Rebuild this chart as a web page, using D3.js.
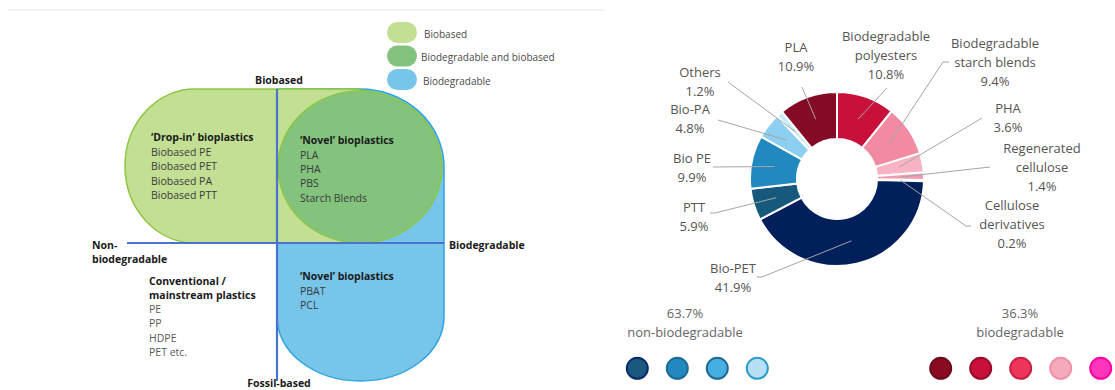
<!DOCTYPE html>
<html>
<head>
<meta charset="utf-8">
<script src="https://cdn.jsdelivr.net/npm/d3@7"></script>
<style>
  html, body { margin: 0; padding: 0; background: #fff; }
  svg { display: block; font-family: "Open Sans", "Noto Sans", sans-serif; }
</style>
</head>
<body>
<svg id="chart" width="1115" height="390"></svg>
<script>
// ---- Donut data: bioplastic production by material type (%) ----
const materials = [
  "Biodegradable polyesters", "Biodegradable starch blends", "PHA",
  "Regenerated cellulose", "Cellulose derivatives", "Bio-PET", "PTT",
  "Bio PE", "Bio-PA", "Others", "PLA"
];
const shares = [10.8, 9.4, 3.6, 1.4, 0.2, 41.9, 5.9, 9.9, 4.8, 1.2, 10.9];
const biodegradable = [true, true, true, true, true, false, false, false, false, false, true];
const labelLines = [
  ["Biodegradable", "polyesters"], ["Biodegradable", "starch blends"], ["PHA"],
  ["Regenerated", "cellulose"], ["Cellulose", "derivatives"], ["Bio-PET"], ["PTT"],
  ["Bio PE"], ["Bio-PA"], ["Others"], ["PLA"]
];
const sliceColors = [
  "#c8103a", "#f28aa2", "#f7b3c3", "#f39ab1", "#fde3ea", "#001f5b", "#17597c",
  "#2188c0", "#8ccff0", "#c9ecfa", "#850a25"
];

// ---- Quadrant diagram text ----
const legendItems = ["Biobased", "Biodegradable and biobased", "Biodegradable"];
const dropIn = ["Biobased PE", "Biobased PET", "Biobased PA", "Biobased PTT"];
const novelBio = ["PLA", "PHA", "PBS", "Starch Blends"];
const novelFossil = ["PBAT", "PCL"];
const conventional = ["PE", "PP", "HDPE", "PET etc."];

// ---- Legend dot colours under the donut ----
const nonBioDots = [["#1b5a7e", "#0b2a6e"], ["#2388c0", "#1b6a98"], ["#45aee2", "#1e6a95"], ["#b8e0f5", "#2b9bd2"]];
const bioDots = [["#8a0a24", "#6a0a1a"], ["#c8103a", "#9a0a2a"], ["#ec3558", "#c82040"], ["#f5aabb", "#f18fa6"], ["#ff36bc", "#ff00a0"]];

const svg = d3.select("#chart");

// faint rule across the top of the left panel
svg.append("line").attr("x1", 8).attr("x2", 604).attr("y1", 10).attr("y2", 10)
  .attr("stroke", "#eeeeee").attr("stroke-width", 1.5);

/* ================= Quadrant diagram ================= */
const cy0 = 243;                                   // horizontal axis position
const lightGreen = "#c3df94", darkGreen = "#83c37e", blue = "#78c5ea";

// biodegradable region (right half, fossil + bio based)
{
  const x0 = 277, x1 = 444, y0 = 89, y1 = 381, rbx = (x1 - x0) / 2, rby = 64;
  const d = `M ${x0} ${y0} H 360 A 84 78 0 0 1 ${x1} ${y0 + 78} V ${y1 - rby} ` +
            `A ${rbx} ${rby} 0 0 1 ${x0} ${y1 - rby} Z`;
  svg.append("path").attr("d", d)
    .attr("fill", blue).attr("stroke", "#2ea3e3").attr("stroke-width", 1.5);
}
// biobased region (top half)
{
  const x0 = 125, x1 = 420, y0 = 89, y1 = 243, rx = 70, ry = (y1 - y0) / 2;
  const d = `M ${x0 + rx} ${y0} H ${x1 - rx} A ${rx} ${ry} 0 0 1 ${x1} ${y0 + ry} A ${rx} ${ry} 0 0 1 ${x1 - rx} ${y1} ` +
            `H ${x0 + rx} A ${rx} ${ry} 0 0 1 ${x0} ${y0 + ry} A ${rx} ${ry} 0 0 1 ${x0 + rx} ${y0} Z`;
  svg.append("path").attr("d", d).attr("fill", lightGreen).attr("stroke", "#8dc63f").attr("stroke-width", 1.5);
}
// biodegradable and biobased overlap
svg.append("ellipse").attr("cx", 360).attr("cy", 167).attr("rx", 82).attr("ry", 76)
  .attr("fill", darkGreen).attr("stroke", "#8dc63f").attr("stroke-width", 1.5);

// axes
svg.append("line").attr("x1", 277).attr("x2", 277).attr("y1", 89).attr("y2", 381)
  .attr("stroke", "#4a72d0").attr("stroke-width", 2.2);
svg.append("line").attr("x1", 127).attr("x2", 444).attr("y1", cy0).attr("y2", cy0)
  .attr("stroke", "#4a72d0").attr("stroke-width", 2.2);

const qFont = 10.5;
function qText(x, y, str, opts = {}) {
  return svg.append("text").attr("x", x).attr("y", y).text(str)
    .attr("font-size", opts.size || qFont)
    .attr("font-weight", opts.bold ? 700 : 400)
    .attr("fill", opts.fill || (opts.bold ? "#1a1a1a" : "#3a3a3a"))
    .attr("text-anchor", opts.anchor || "start");
}
qText(279, 83.5, "Biobased", { bold: true, anchor: "middle" });
qText(279, 386.5, "Fossil-based", { bold: true, anchor: "middle" });
qText(92, 249, "Non-", { bold: true });
qText(92, 263, "biodegradable", { bold: true });
qText(449, 249, "Biodegradable", { bold: true });

const lh = 14.4;
qText(151, 141, "\u2018Drop-in\u2019 bioplastics", { bold: true });
dropIn.forEach((t, i) => qText(151, 156 + i * lh, t));
qText(300, 144, "\u2018Novel\u2019 bioplastics", { bold: true });
novelBio.forEach((t, i) => qText(300, 158.5 + i * lh, t));
qText(300, 280, "\u2018Novel\u2019 bioplastics", { bold: true });
novelFossil.forEach((t, i) => qText(300, 294.5 + i * lh, t));
qText(149, 284.5, "Conventional /", { bold: true });
qText(149, 299, "mainstream plastics", { bold: true });
conventional.forEach((t, i) => qText(149, 313 + i * lh, t, { fill: "#5a5a5a" }));

// legend pills
const pillFill = [lightGreen, darkGreen, blue];
const pillY = [22, 45.5, 69];
const pillTextX = [424, 421, 423];
legendItems.forEach((t, i) => {
  svg.append("rect").attr("x", 387).attr("y", pillY[i]).attr("width", 30).attr("height", 21)
    .attr("rx", 10.5).attr("fill", pillFill[i]);
  qText(pillTextX[i], pillY[i] + 15.5, t, { size: 10, fill: "#4a4a4a" });
});

/* ================= Donut ================= */
const cx = 837, cy = 179, rOuter = 87, rInner = 40;
const pie = d3.pie().sort(null).value(d => d);
const arcs = pie(shares);
const arc = d3.arc().innerRadius(rInner).outerRadius(rOuter);
const g = svg.append("g").attr("transform", `translate(${cx},${cy})`);

g.selectAll("path.slice").data(arcs).join("path")
  .attr("class", "slice")
  .attr("d", arc)
  .attr("fill", (d, i) => sliceColors[i])
  .attr("stroke", "#fff").attr("stroke-width", 2).attr("stroke-linejoin", "miter");

// label placement (offsets from the donut centre): text centre, first baseline, leader end
const labelLayout = [
  { tx: 49, ty: -138, lx: 50, ly: -91, tail: 0 },
  { tx: 158, ty: -131, lx: 106, ly: -117, tail: 6 },
  { tx: 171, ty: -66, lx: 145, ly: -61, tail: 0 },
  { tx: 205, ty: -26, lx: 153, ly: -12, tail: 0 },
  { tx: 175, ty: 31, lx: 129, ly: 47, tail: 5 },
  { tx: -104, ty: 94, lx: -75, ly: 98, tail: -5 },
  { tx: -143, ty: 33, lx: -122, ly: 34, tail: -5 },
  { tx: -145, ty: -16, lx: -124, ly: -12, tail: 0 },
  { tx: -147, ty: -65, lx: -119, ly: -59, tail: 0 },
  { tx: -137, ty: -102, lx: -109, ly: -97, tail: 0 },
  { tx: -41, ty: -127, lx: -35, ly: -92, tail: 0 }
];
const fmt = d3.format(".1f");
const labelArc = d3.arc().innerRadius(rInner).outerRadius(rOuter);

arcs.forEach((a, i) => {
  const L = labelLayout[i];
  const [sx, sy] = labelArc.centroid(a);
  const pts = [[sx, sy], [L.lx, L.ly]];
  if (L.tail) pts.push([L.lx + L.tail, L.ly]);
  g.append("path").attr("d", d3.line()(pts))
    .attr("fill", "none").attr("stroke", "#a6a6a6").attr("stroke-width", 1);
  const lines = labelLines[i].concat([fmt(shares[i]) + "%"]);
  const t = g.append("text").attr("text-anchor", "middle").attr("font-size", 13).attr("fill", "#555");
  lines.forEach((s, j) => t.append("tspan").attr("x", L.tx).attr("y", L.ty + j * 19).text(s));
});

// summary legend under the donut
const nonBioTotal = d3.sum(shares.filter((v, i) => !biodegradable[i]));
const bioTotal = d3.sum(shares.filter((v, i) => biodegradable[i]));
[[685, nonBioTotal, "non-biodegradable"], [1020, bioTotal, "biodegradable"]].forEach(([x, v, lab]) => {
  const t = svg.append("text").attr("text-anchor", "middle").attr("font-size", 13).attr("fill", "#666");
  t.append("tspan").attr("x", x).attr("y", 318).text(fmt(v) + "%");
  t.append("tspan").attr("x", x).attr("y", 337).text(lab);
});
const dotX = d3.scaleLinear().domain([0, 1]).range([0, 40]);
nonBioDots.forEach((c, i) => svg.append("circle").attr("cx", 637.3 + dotX(i)).attr("cy", 368.3).attr("r", 10.5)
  .attr("fill", c[0]).attr("stroke", c[1]).attr("stroke-width", 2));
bioDots.forEach((c, i) => svg.append("circle").attr("cx", 940.7 + dotX(i)).attr("cy", 368.3).attr("r", 10.5)
  .attr("fill", c[0]).attr("stroke", c[1]).attr("stroke-width", 2));
</script>
</body>
</html>
